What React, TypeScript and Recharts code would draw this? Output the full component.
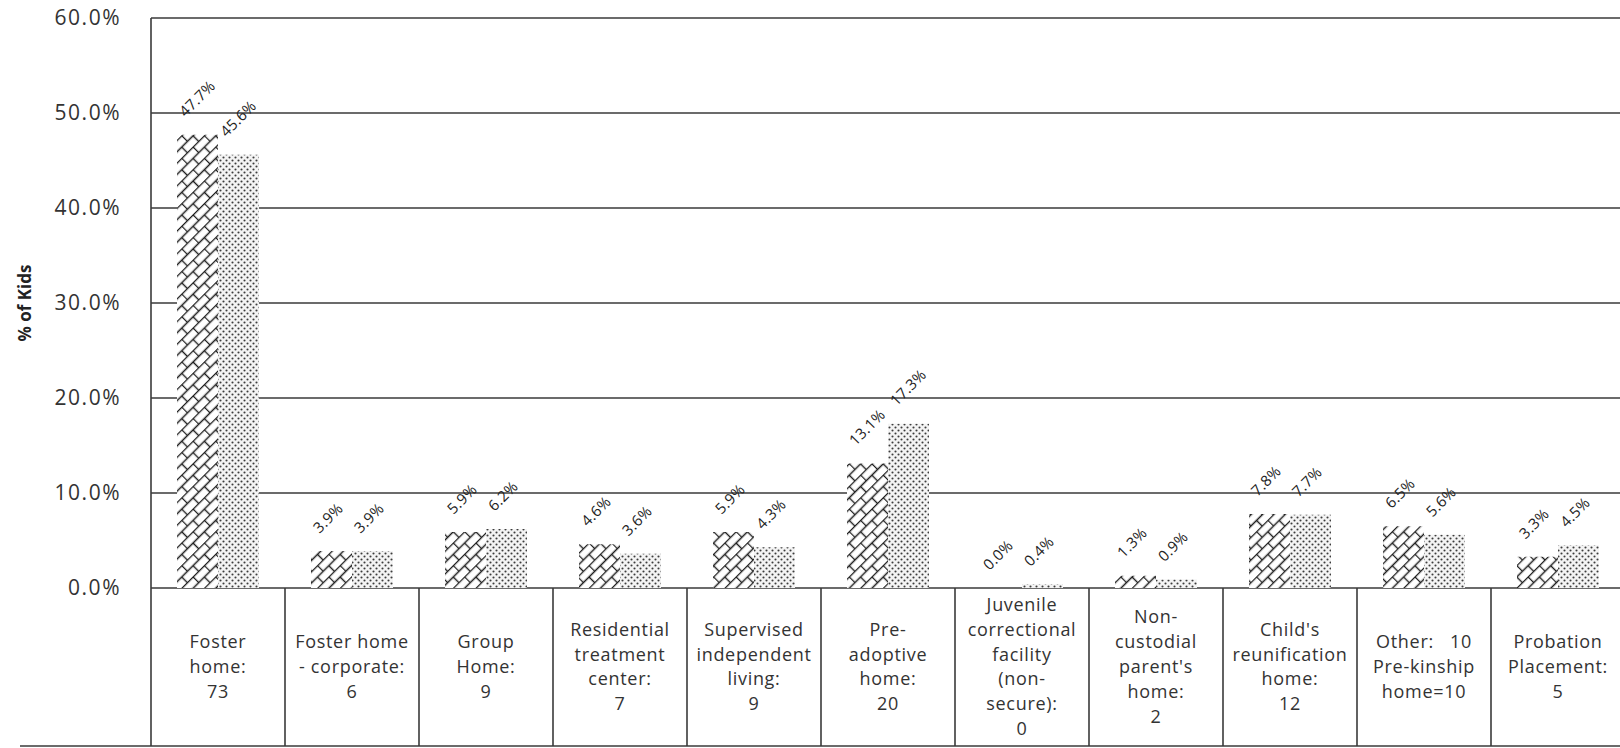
import React from 'react';
import { BarChart, Bar, XAxis, YAxis, CartesianGrid, Label } from 'recharts';

// ---------- data ----------
const categories = [
  'Foster home: 73',
  'Foster home - corporate: 6',
  'Group Home: 9',
  'Residential treatment center: 7',
  'Supervised independent living: 9',
  'Pre-adoptive home: 20',
  'Juvenile correctional facility (non-secure): 0',
  "Non-custodial parent's home: 2",
  "Child's reunification home: 12",
  'Other: 10 Pre-kinship home=10',
  'Probation Placement: 5',
];

const categoryLines: string[][] = [
  ['Foster', 'home:', '73'],
  ['Foster home', '- corporate:', '6'],
  ['Group', 'Home:', '9'],
  ['Residential', 'treatment', 'center:', '7'],
  ['Supervised', 'independent', 'living:', '9'],
  ['Pre-', 'adoptive', 'home:', '20'],
  ['Juvenile', 'correctional', 'facility', '(non-', 'secure):', '0'],
  ['Non-', 'custodial', "parent's", 'home:', '2'],
  ["Child's", 'reunification', 'home:', '12'],
  ['Other:   10', 'Pre-kinship', 'home=10'],
  ['Probation', 'Placement:', '5'],
];

const series1 = [47.7, 3.9, 5.9, 4.6, 5.9, 13.1, 0.0, 1.3, 7.8, 6.5, 3.3];
const series2 = [45.6, 3.9, 6.2, 3.6, 4.3, 17.3, 0.4, 0.9, 7.7, 5.6, 4.5];

const yTicks = [0, 10, 20, 30, 40, 50, 60];

const data = categories.map((c, i) => ({
  name: c,
  s1: series1[i],
  s2: series2[i],
}));

// ---------- styling ----------
const FONT = '"Open Sans", "Liberation Sans", sans-serif';
const LINE = '#3a3a3a';
const TEXT = '#333333';

const YTick = (props: any) => {
  const { x, y, payload } = props;
  return (
    <text
      x={x}
      y={y}
      dy={7}
      textAnchor="end"
      fontFamily={FONT}
      fontSize={21}
      letterSpacing={1.5}
      fill={TEXT}
    >
      {`${Number(payload.value).toFixed(1)}%`}
    </text>
  );
};

const XTick = (props: any) => {
  const { x, y, payload, index, width } = props;
  const i = payload && payload.index != null ? payload.index : index;
  const lines = categoryLines[i] || [];
  const n = categories.length;
  const bw = width ? width / n : 134;
  const cellH = 158;
  const lh = 24.8;
  const startY = y + cellH / 2 - ((lines.length - 1) * lh) / 2 + 6;
  return (
    <g>
      <line x1={x - bw / 2} x2={x - bw / 2} y1={y} y2={y + cellH} stroke={LINE} strokeWidth={1.6} />
      {i === n - 1 && (
        <line x1={x + bw / 2} x2={x + bw / 2} y1={y} y2={y + cellH} stroke={LINE} strokeWidth={1.6} />
      )}
      <line
        x1={i === 0 ? 20 : x - bw / 2}
        x2={x + bw / 2}
        y1={y + cellH}
        y2={y + cellH}
        stroke={LINE}
        strokeWidth={1.6}
      />
      <text
        textAnchor="middle"
        fontFamily={FONT}
        fontSize={18}
        letterSpacing={0.7}
        fill={TEXT}
        style={{ whiteSpace: 'pre' }}
      >
        {lines.map((l, k) => (
          <tspan key={k} x={x} y={startY + k * lh}>
            {l}
          </tspan>
        ))}
      </text>
    </g>
  );
};

const BarLabel = (props: any) => {
  const { x, y, width, value } = props;
  const cx = x + width / 2 - 12;
  const cy = y - 17;
  return (
    <text
      x={cx}
      y={cy}
      transform={`rotate(-45 ${cx} ${cy})`}
      textAnchor="start"
      fontFamily={FONT}
      fontSize={15}
      letterSpacing={0.3}
      fill="#222"
    >
      {`${Number(value).toFixed(1)}%`}
    </text>
  );
};

const YLabel = (props: any) => {
  const { viewBox } = props;
  const cy = viewBox ? viewBox.y + viewBox.height / 2 : 300;
  const cx = 24;
  return (
    <text
      x={cx}
      y={cy}
      transform={`rotate(-90 ${cx} ${cy})`}
      textAnchor="middle"
      dominantBaseline="central"
      fontFamily={FONT}
      fontWeight="bold"
      fontSize={17}
      fill="#222"
    >
      % of Kids
    </text>
  );
};

const tinyForZero = (value: any) => (Number(value) === 0 ? 0.05 : 0);

export default function App() {
  return (
    <div
      style={{
        position: 'fixed',
        left: 0,
        top: 0,
        width: 1620,
        height: 748,
        overflow: 'hidden',
        background: '#fff',
      }}
    >
      <svg width={0} height={0} style={{ position: 'absolute' }}>
        <defs>
          <pattern
            id="brick"
            patternUnits="userSpaceOnUse"
            width={16}
            height={16}
            patternTransform="rotate(-45)"
          >
            <rect x={0} y={0} width={16} height={16} fill="#fff" />
            <path
              d="M0,0.5 H16 M0,8.5 H16 M0.5,0.5 V8.5 M8.5,8.5 V16"
              stroke="#1e1e1e"
              strokeWidth={1.4}
              fill="none"
            />
          </pattern>
          <pattern id="dots" patternUnits="userSpaceOnUse" width={6} height={6}>
            <rect x={0} y={0} width={6} height={6} fill="#f4f4f4" />
            <circle cx={1.5} cy={1.5} r={1.05} fill="#3c3c3c" />
            <circle cx={4.5} cy={4.5} r={1.05} fill="#3c3c3c" />
          </pattern>
        </defs>
      </svg>
      <BarChart
        width={1625}
        height={748}
        data={data}
        margin={{ top: 18, right: 0, bottom: 0, left: 0 }}
        barGap={0}
      >
        <CartesianGrid vertical={false} stroke={LINE} strokeWidth={1.6} />
        <XAxis
          dataKey="name"
          height={160}
          interval={0}
          tickLine={false}
          axisLine={false}
          tickSize={0}
          tickMargin={0}
          tick={<XTick />}
        />
        <YAxis
          width={151}
          domain={[0, 60]}
          ticks={yTicks}
          interval={0}
          tickLine={false}
          tickSize={0}
          tickMargin={30}
          axisLine={{ stroke: LINE, strokeWidth: 1.6 }}
          tick={<YTick />}
        >
          <Label content={<YLabel />} />
        </YAxis>
        <Bar
          dataKey="s1"
          name="Series 1"
          fill="url(#brick)"
          barSize={41}
          minPointSize={tinyForZero}
          isAnimationActive={false}
          label={<BarLabel />}
        />
        <Bar
          dataKey="s2"
          name="Series 2"
          fill="url(#dots)"
          barSize={41}
          minPointSize={tinyForZero}
          isAnimationActive={false}
          label={<BarLabel />}
        />
      </BarChart>
    </div>
  );
}
